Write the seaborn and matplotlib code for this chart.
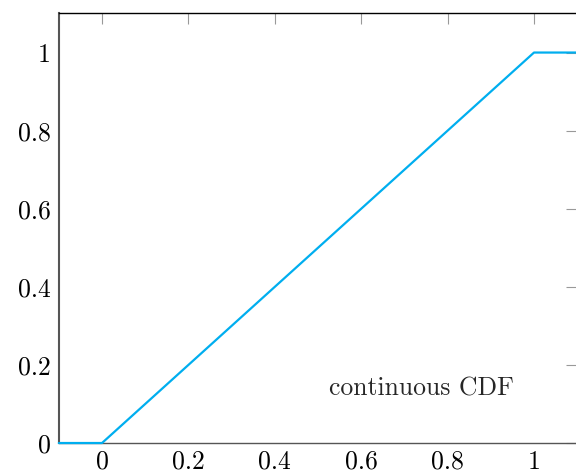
import matplotlib
matplotlib.use("Agg")
import matplotlib.pyplot as plt
import seaborn as sns
import pandas as pd

# Piecewise-linear CDF of the uniform distribution on [0, 1]
x_vals = [-0.1, 0.0, 1.0, 1.1]
cdf_vals = [0.0, 0.0, 1.0, 1.0]
x_ticks = [0, 0.2, 0.4, 0.6, 0.8, 1]
y_ticks = [0, 0.2, 0.4, 0.6, 0.8, 1]
x_tick_labels = ["0", "0.2", "0.4", "0.6", "0.8", "1"]
y_tick_labels = ["0", "0.2", "0.4", "0.6", "0.8", "1"]
label_text = "continuous CDF"

sns.set_style("white")
plt.rcParams["font.family"] = ["cmr10", "DejaVu Serif"]
plt.rcParams["axes.formatter.use_mathtext"] = True

df = pd.DataFrame({"x": x_vals, "F": cdf_vals})

fig = plt.figure(figsize=(5.76, 4.72), dpi=100)
ax = fig.add_axes([0.1021, 0.0614, 0.9000, 0.9100])

sns.lineplot(data=df, x="x", y="F", ax=ax, color="#00aeef", linewidth=1.6,
             estimator=None, sort=False, clip_on=False, zorder=3)

ax.set_xlim(-0.1, 1.1)
ax.set_ylim(0, 1.1)
ax.set_xticks(x_ticks)
ax.set_xticklabels(x_tick_labels, fontsize=18.5)
ax.set_yticks(y_ticks)
ax.set_yticklabels(y_tick_labels, fontsize=18.5)
ax.set_xlabel("")
ax.set_ylabel("")

ax.tick_params(axis="both", which="major", direction="in", length=8,
               width=0.8, color="#999999",
               top=True, right=True, labelcolor="black")
ax.tick_params(axis="x", pad=5)
ax.tick_params(axis="y", pad=6)

for side, sp in ax.spines.items():
    sp.set_visible(True)
    sp.set_linewidth(1.0)
ax.spines["top"].set_color("black")
ax.spines["right"].set_color("black")
ax.spines["left"].set_color("#555555")
ax.spines["bottom"].set_color("#555555")
ax.spines["left"].set_linewidth(1.5)

ax.text(0.74, 0.14, label_text, ha="center", va="center", fontsize=18.5)

fig.savefig("out.png", dpi=100)
